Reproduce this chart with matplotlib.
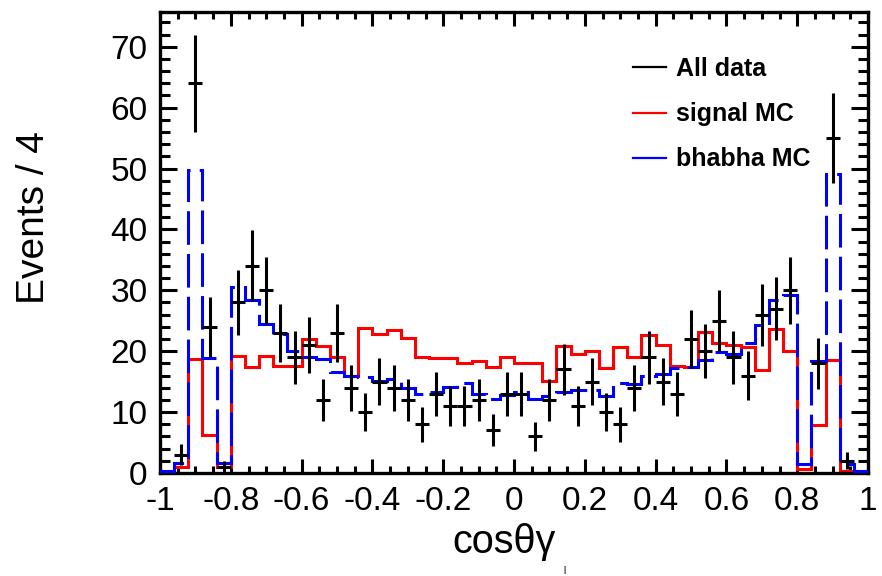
"""
plot.py

cosθγ 分布：数据点 + signal MC + bhabha MC
"""

import numpy as np
import matplotlib
matplotlib.use("Agg")
import matplotlib.pyplot as plt
from matplotlib.lines import Line2D
from matplotlib.ticker import MultipleLocator, FuncFormatter


# ==========================
# 1. 数据（50 个 bin，宽度 0.04）
# ==========================

BIN_EDGES = np.linspace(-1.0, 1.0, 51)

DATA_COUNTS = [0, 3, 64, 24, 1, 28, 34, 30, 23, 19,
               21, 12, 23, 14, 10, 15, 14, 12, 8, 13,
               11, 11, 12, 7, 13, 13, 6, 12, 17, 11,
               15, 10, 8, 14, 19, 15, 13, 22, 20, 25,
               19, 16, 26, 27, 30, 0, 18, 55, 2, 0]

SIGNAL_MC = [0.0, 1.0, 18.8, 6.2, 1.0, 19.2, 17.4, 19.2, 17.5, 17.5,
             22.0, 20.9, 19.1, 16.0, 23.8, 22.8, 23.4, 22.2, 19.1, 18.9,
             18.9, 18.1, 18.4, 17.4, 19.1, 18.0, 18.0, 15.1, 20.9, 19.5,
             20.0, 17.3, 20.7, 19.1, 22.6, 21.1, 17.5, 17.4, 23.2, 21.4,
             21.1, 20.7, 16.9, 23.6, 20.0, 0.6, 7.9, 18.6, 0.4, 0.0]

BHABHA_MC = [0.4, 1.6, 49.7, 18.9, 1.7, 30.5, 28.4, 24.4, 22.9, 20.0,
             19.1, 18.8, 16.6, 16.0, 15.8, 15.1, 15.5, 14.0, 12.9, 13.3,
             14.2, 14.7, 12.9, 12.2, 12.8, 13.3, 12.2, 12.7, 13.3, 13.6,
             13.6, 12.7, 14.7, 14.6, 15.9, 16.3, 17.2, 17.4, 18.5, 19.9,
             19.6, 21.4, 24.3, 28.4, 29.2, 1.4, 18.4, 49.1, 1.4, 0.4]

LEGEND_LABELS = ["All data", "signal MC", "bhabha MC"]

Y_MAX = 75.7

FONT = "Liberation Sans"


# ==========================
# 2. 画图
# ==========================

def tick_label(v, pos):
    """ROOT 风格刻度：-0.8, 0, 1"""
    return f"{round(v, 2) + 0:g}"


def main():
    plt.rcParams["font.family"] = [FONT, "DejaVu Sans"]
    plt.rcParams["axes.unicode_minus"] = False

    fig = plt.figure(figsize=(8.82, 5.76), dpi=100)
    ax = fig.add_axes([160 / 882, 1 - 473 / 576, 708 / 882, 461 / 576])

    data = np.array(DATA_COUNTS, dtype=float)
    centers = 0.5 * (BIN_EDGES[:-1] + BIN_EDGES[1:])
    half_width = 0.5 * np.diff(BIN_EDGES)

    # MC 直方图：红色实线在下，蓝色虚线在上
    ax.stairs(SIGNAL_MC, BIN_EDGES, color="#ff0000", linewidth=2.2, zorder=2)
    ax.stairs(BHABHA_MC, BIN_EDGES, color="#0000ff", linewidth=2.2,
              linestyle=(0, (11, 3)), zorder=3)

    # 数据点，误差为 sqrt(N)，空 bin 不画
    mask = data > 0
    ax.errorbar(centers[mask], data[mask],
                yerr=np.sqrt(data[mask]), xerr=half_width[mask],
                fmt="none", ecolor="black", elinewidth=2.2, capsize=0,
                zorder=4)

    ax.set_xlim(-1, 1)
    ax.set_ylim(0, Y_MAX)

    ax.xaxis.set_major_locator(MultipleLocator(0.2))
    ax.xaxis.set_minor_locator(MultipleLocator(0.05))
    ax.yaxis.set_major_locator(MultipleLocator(10))
    ax.yaxis.set_minor_locator(MultipleLocator(2))
    ax.xaxis.set_major_formatter(FuncFormatter(tick_label))
    ax.yaxis.set_major_formatter(FuncFormatter(tick_label))

    ax.tick_params(axis="both", which="both", direction="in",
                   top=True, right=True, width=2.2, labelsize=24)
    ax.tick_params(axis="x", which="major", length=10, pad=9)
    ax.tick_params(axis="x", which="minor", length=5)
    ax.tick_params(axis="y", which="major", length=12, pad=9)
    ax.tick_params(axis="y", which="minor", length=7)

    for spine in ax.spines.values():
        spine.set_linewidth(2.4)

    # 轴标题
    fig.text(34 / 882, 1 - 218 / 576, "Events / 4", rotation=90,
             ha="center", va="center", fontsize=28)
    fig.text(452 / 882, 1 - 553 / 576, "cosθγ", ha="left",
             va="baseline", fontsize=28.5)
    fig.text(563 / 882, 1 - 566 / 576, "l", ha="left", va="top",
             fontsize=7)

    # 图例
    handles = [
        Line2D([], [], color="black", linewidth=1.6),
        Line2D([], [], color="#ff0000", linewidth=1.6),
        Line2D([], [], color="#0000ff", linewidth=1.6),
    ]
    ax.legend(handles, LEGEND_LABELS,
              loc="upper left", bbox_to_anchor=(633 / 882, 1 - 57 / 576),
              bbox_transform=fig.transFigure,
              frameon=False, borderpad=0, borderaxespad=0,
              handlelength=1.3, handletextpad=0.4, labelspacing=0.85,
              prop={"family": FONT, "weight": "bold", "size": 18})

    fig.savefig("out.png", dpi=100)
    plt.close(fig)


if __name__ == "__main__":
    main()
